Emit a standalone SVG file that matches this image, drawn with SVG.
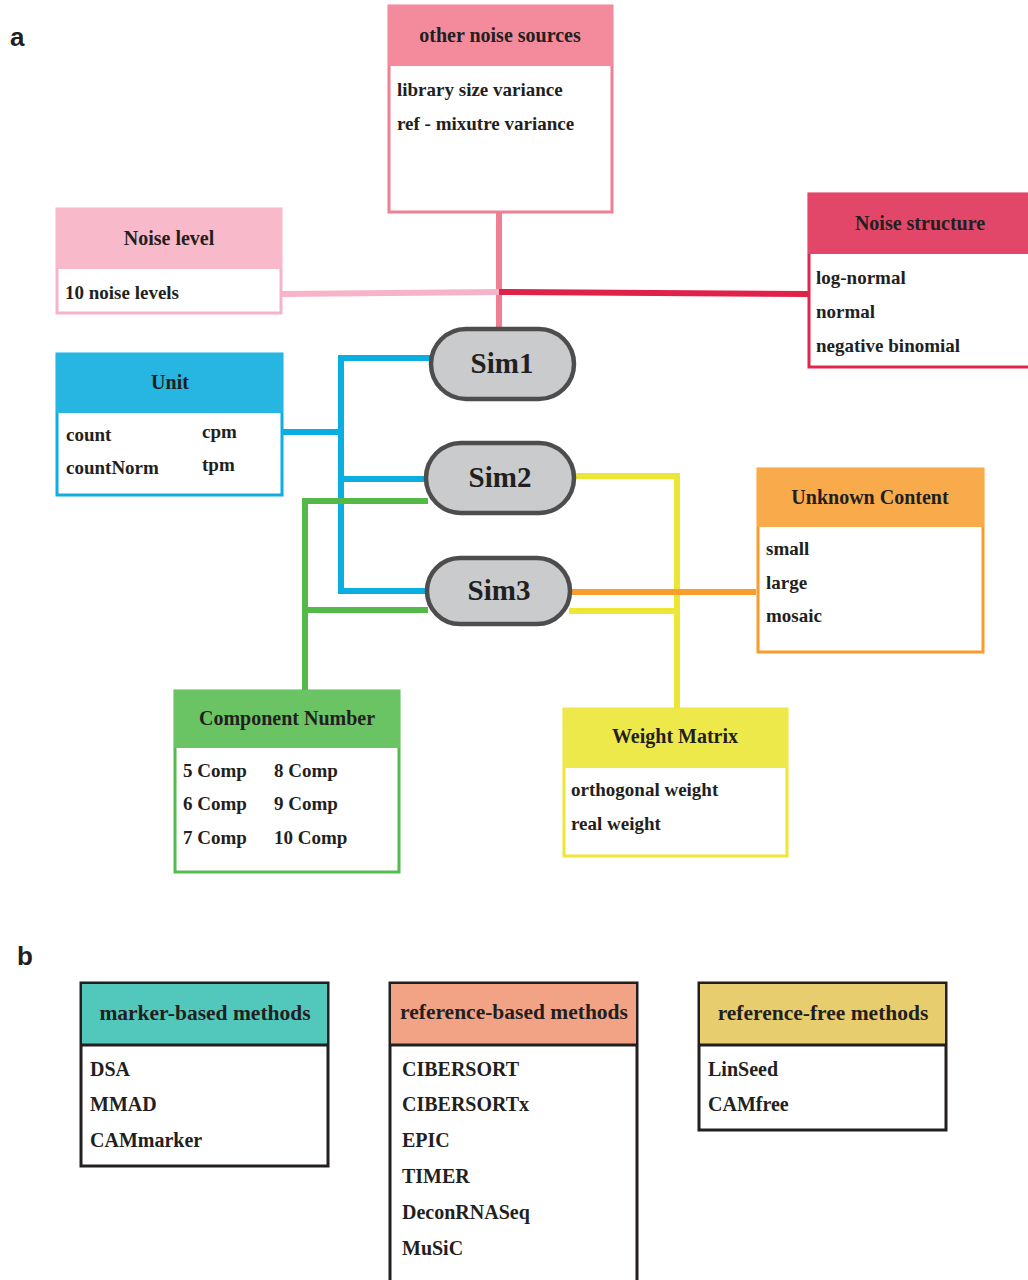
<svg xmlns="http://www.w3.org/2000/svg" width="1028" height="1280" viewBox="0 0 1028 1280">
<style>
.t{font-family:"Liberation Serif","Times New Roman",serif;font-weight:bold;font-size:19px;fill:#231f20}
.h{text-anchor:middle;font-size:20px}
.bh{font-size:21.5px}
.bi{font-size:20px}
.sim{font-family:"Liberation Serif","Times New Roman",serif;font-weight:bold;font-size:29px;fill:#231f20;text-anchor:middle}
.lab{font-family:"Liberation Sans",Arial,sans-serif;font-weight:bold;font-size:26px;fill:#231f20}
.c{fill:none;stroke-width:6}
.body{fill:#fff;stroke-width:3}
.simbox{fill:#cacbcd;stroke:#4d4d4d;stroke-width:4.5}
</style>
<rect width="1028" height="1280" fill="#fff"/>
<text class="lab" x="10" y="46">a</text>
<text class="lab" x="17" y="965">b</text>

<g id="connectors">
<line class="c" x1="499" y1="212" x2="499" y2="330" stroke="#f07f93"/>
<line class="c" x1="282" y1="294" x2="499" y2="292" stroke="#f7b3c7"/>
<line class="c" x1="499" y1="292" x2="808" y2="294" stroke="#e0214a"/>
<polyline class="c" points="283,432 341,432" stroke="#0aaee0"/>
<polyline class="c" points="431,358 341,358 341,591 428,591" stroke="#0aaee0"/>
<line class="c" x1="341" y1="479" x2="428" y2="479" stroke="#0aaee0"/>
<polyline class="c" points="428,501 305,501 305,692" stroke="#55b94a"/>
<line class="c" x1="305" y1="610" x2="428" y2="610" stroke="#55b94a"/>
<polyline class="c" points="574,476 677,476 677,710" stroke="#ede636"/>
<line class="c" x1="569" y1="611" x2="677" y2="611" stroke="#ede636"/>
<line class="c" x1="571" y1="592" x2="756" y2="592" stroke="#f99d2c"/>
</g>

<g id="other-noise-sources">
<rect class="body" x="389" y="6" width="223" height="206" stroke="#f07f93"/>
<rect x="388" y="5" width="225" height="61" fill="#f38b9d"/>
<text class="t h" x="500" y="42">other noise sources</text>
<text class="t" x="397" y="96">library size variance</text>
<text class="t" x="397" y="130">ref - mixutre variance</text>
</g>

<g id="noise-level">
<rect class="body" x="57" y="209" width="224" height="104" stroke="#f7b3c7"/>
<rect x="56" y="208" width="226" height="61" fill="#f8b9cb"/>
<text class="t h" x="169" y="245">Noise level</text>
<text class="t" x="65" y="299">10 noise levels</text>
</g>

<g id="noise-structure">
<rect class="body" x="809" y="194" width="225" height="173" stroke="#e0254f"/>
<rect x="808" y="193" width="222" height="61" fill="#e2476a"/>
<text class="t h" x="920" y="230">Noise structure</text>
<text class="t" x="816" y="284">log-normal</text>
<text class="t" x="816" y="318">normal</text>
<text class="t" x="816" y="352">negative binomial</text>
</g>

<g id="unit">
<rect class="body" x="57" y="354" width="225" height="141" stroke="#0eaee0"/>
<rect x="56" y="353" width="227" height="60" fill="#27b6e2"/>
<text class="t h" x="170" y="389">Unit</text>
<text class="t" x="66" y="441">count</text>
<text class="t" x="202" y="438">cpm</text>
<text class="t" x="66" y="474">countNorm</text>
<text class="t" x="202" y="471">tpm</text>
</g>

<g id="sim1">
<rect class="simbox" x="431" y="329" width="143" height="70" rx="35"/>
<text class="sim" x="502" y="373">Sim1</text>
</g>
<g id="sim2">
<rect class="simbox" x="426" y="443" width="148" height="70" rx="35"/>
<text class="sim" x="500" y="487">Sim2</text>
</g>
<g id="sim3">
<rect class="simbox" x="427" y="558" width="143" height="66" rx="33"/>
<text class="sim" x="499" y="600">Sim3</text>
</g>

<g id="unknown-content">
<rect class="body" x="758" y="469" width="225" height="183" stroke="#f99c2c"/>
<rect x="757" y="468" width="227" height="59" fill="#f9ab4c"/>
<text class="t h" x="870" y="504">Unknown Content</text>
<text class="t" x="766" y="555">small</text>
<text class="t" x="766" y="589">large</text>
<text class="t" x="766" y="622">mosaic</text>
</g>

<g id="component-number">
<rect class="body" x="175" y="691" width="224" height="181" stroke="#55bb4c"/>
<rect x="174" y="690" width="226" height="58" fill="#6ac464"/>
<text class="t h" x="287" y="725">Component Number</text>
<text class="t" x="183" y="777">5 Comp</text>
<text class="t" x="274" y="777">8 Comp</text>
<text class="t" x="183" y="810">6 Comp</text>
<text class="t" x="274" y="810">9 Comp</text>
<text class="t" x="183" y="844">7 Comp</text>
<text class="t" x="274" y="844">10 Comp</text>
</g>

<g id="weight-matrix">
<rect class="body" x="564" y="709" width="223" height="147" stroke="#ede636"/>
<rect x="563" y="708" width="225" height="60" fill="#ede94a"/>
<text class="t h" x="675" y="743">Weight Matrix</text>
<text class="t" x="571" y="796">orthogonal weight</text>
<text class="t" x="571" y="830">real weight</text>
</g>

<g id="marker-based">
<rect class="body" x="81" y="983" width="247" height="183" stroke="#231f20"/>
<rect x="82" y="984" width="245" height="61" fill="#52c8bc"/>
<line x1="81" y1="1045" x2="328" y2="1045" stroke="#231f20" stroke-width="3"/>
<text class="t h bh" x="205" y="1020">marker-based methods</text>
<text class="t bi" x="90" y="1076">DSA</text>
<text class="t bi" x="90" y="1111">MMAD</text>
<text class="t bi" x="90" y="1147">CAMmarker</text>
</g>

<g id="reference-based">
<rect class="body" x="390" y="983" width="247" height="310" stroke="#231f20"/>
<rect x="391" y="984" width="245" height="61" fill="#f2a385"/>
<line x1="390" y1="1045" x2="637" y2="1045" stroke="#231f20" stroke-width="3"/>
<text class="t h bh" x="514" y="1019">reference-based methods</text>
<text class="t bi" x="402" y="1076">CIBERSORT</text>
<text class="t bi" x="402" y="1111">CIBERSORTx</text>
<text class="t bi" x="402" y="1147">EPIC</text>
<text class="t bi" x="402" y="1183">TIMER</text>
<text class="t bi" x="402" y="1219">DeconRNASeq</text>
<text class="t bi" x="402" y="1255">MuSiC</text>
</g>

<g id="reference-free">
<rect class="body" x="699" y="983" width="247" height="147" stroke="#231f20"/>
<rect x="700" y="984" width="245" height="61" fill="#e8cd6e"/>
<line x1="699" y1="1045" x2="946" y2="1045" stroke="#231f20" stroke-width="3"/>
<text class="t h bh" x="823" y="1020">reference-free methods</text>
<text class="t bi" x="708" y="1076">LinSeed</text>
<text class="t bi" x="708" y="1111">CAMfree</text>
</g>
</svg>
